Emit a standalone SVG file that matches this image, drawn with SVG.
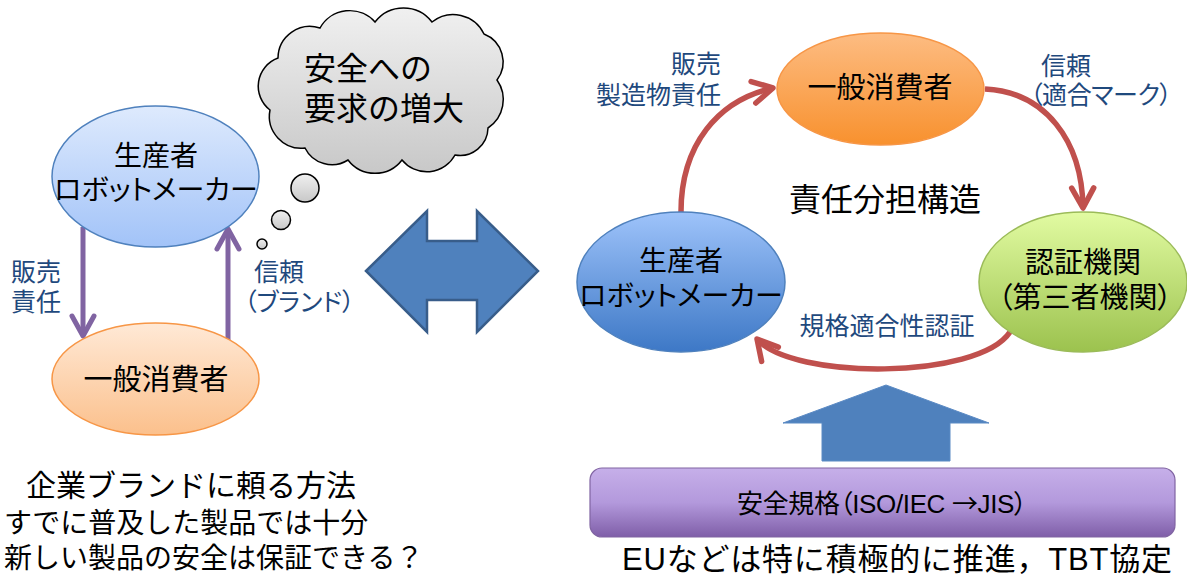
<svg xmlns="http://www.w3.org/2000/svg" width="1187" height="584" viewBox="0 0 1187 584">
<defs>
<linearGradient id="gBlueL" x1="0" y1="0" x2="0" y2="1"><stop offset="0" stop-color="#DEEAFD"/><stop offset="1" stop-color="#A2C3F8"/></linearGradient>
<linearGradient id="gOrangeL" x1="0" y1="0" x2="0" y2="1"><stop offset="0" stop-color="#FFE9D6"/><stop offset="1" stop-color="#FBC08C"/></linearGradient>
<linearGradient id="gOrange" x1="0" y1="0" x2="0" y2="1"><stop offset="0" stop-color="#FDBC82"/><stop offset="1" stop-color="#F8912E"/></linearGradient>
<linearGradient id="gBlue" x1="0" y1="0" x2="0" y2="1"><stop offset="0" stop-color="#9EC3FA"/><stop offset="1" stop-color="#3D78C6"/></linearGradient>
<linearGradient id="gGreen" x1="0" y1="0" x2="0" y2="1"><stop offset="0" stop-color="#E2FBA2"/><stop offset="1" stop-color="#9CC24E"/></linearGradient>
<linearGradient id="gPurple" x1="0" y1="0" x2="0" y2="1"><stop offset="0" stop-color="#C6AFE9"/><stop offset="0.5" stop-color="#B399DC"/><stop offset="1" stop-color="#7F5EA8"/></linearGradient>
<linearGradient id="gGrey" x1="0" y1="0" x2="0" y2="1"><stop offset="0" stop-color="#F0F0F0"/><stop offset="1" stop-color="#C8C8C8"/></linearGradient>
<marker id="mRed" markerUnits="userSpaceOnUse" markerWidth="40" markerHeight="40" viewBox="-30 -20 40 40" refX="0" refY="0" orient="auto">
<path d="M-20,-11 L0,0 L-20,11" fill="none" stroke="#C0504D" stroke-width="5.5" stroke-linecap="round" stroke-linejoin="round"/>
</marker>
<marker id="mPurple" markerUnits="userSpaceOnUse" markerWidth="40" markerHeight="40" viewBox="-30 -20 40 40" refX="0" refY="0" orient="auto">
<path d="M-20,-11 L0,0 L-20,11" fill="none" stroke="#8064A2" stroke-width="5" stroke-linecap="round" stroke-linejoin="round"/>
</marker>
</defs>
<style>
text{font-family:"Liberation Sans","Noto Sans CJK JP","Noto Sans CJK SC",sans-serif;fill:#000;}
.p{font-feature-settings:"palt";}
.cjk{font-family:"Noto Sans CJK JP",sans-serif;}
.lbl{fill:#1F497D;font-size:25px;}
.mid{text-anchor:middle;}
.end{text-anchor:end;}
.n28{font-size:28px;}
.red{fill:none;stroke:#C0504D;stroke-width:5.5;marker-end:url(#mRed);}
.pur{fill:none;stroke:#8064A2;stroke-width:5;marker-end:url(#mPurple);}
.big{fill:#4F81BD;stroke:#385D8A;stroke-width:2.5;stroke-linejoin:miter;}
.gr{fill:url(#gGrey);stroke:#000;stroke-width:1.5;}
</style>

<g id="connectors">
<path class="pur" d="M83,227 L83,336"/>
<path class="pur" d="M228,340 L228,229"/>
<path class="red" d="M681,212 C681,145 718,100 773,88"/>
<path class="red" d="M985,89 C1045,92 1082,140 1083,208"/>
<path class="red" d="M1010,332 C978,380 792,380 757,339"/>
</g>

<g id="cloud">
<path class="gr" d="M278,58 A32,32 0 0 1 320,28 A34,34 0 0 1 375,22 A36,36 0 0 1 432,22 A34,34 0 0 1 484,34 A30,30 0 0 1 497,80 A34,34 0 0 1 488,128 A28,28 0 0 1 455,155 A32,32 0 0 1 402,160 A34,34 0 0 1 348,160 A30,30 0 0 1 305,148 A32,32 0 0 1 270,110 A30,30 0 0 1 278,58 Z"/>
<circle class="gr" cx="305" cy="188" r="14"/>
<circle class="gr" cx="281" cy="220" r="9.5"/>
<circle class="gr" cx="262" cy="244" r="5"/>
<text x="304" y="80" font-size="32">安全への</text>
<text x="304" y="120" font-size="32">要求の増大</text>
</g>

<g id="producerL">
<ellipse cx="155.5" cy="176.5" rx="103.5" ry="70.5" fill="url(#gBlueL)" stroke="#4F81BD" stroke-width="1.5"/>
<text class="mid n28" x="156" y="166">生産者</text>
<text class="mid n28 p" x="156" y="200">ロボットメーカー</text>
</g>

<g id="consumerL">
<ellipse cx="155.5" cy="379" rx="103.5" ry="56" fill="url(#gOrangeL)" stroke="#F79646" stroke-width="1.5"/>
<text class="mid" x="156" y="390" font-size="29">一般消費者</text>
</g>

<g id="labelsL">
<text class="lbl" x="11" y="281">販売</text>
<text class="lbl" x="11" y="311">責任</text>
<text class="lbl" x="254" y="281">信頼</text>
<text class="lbl p" x="244" y="311">（ブランド）</text>
</g>

<g id="doubleArrow">
<polygon class="big" points="366,271 427,211 427,241 477,241 477,211 538,271 477,332 477,300 427,300 427,332"/>
</g>

<g id="textL">
<text x="26" y="496" font-size="30">企業ブランドに頼る方法</text>
<text x="4" y="533" font-size="28">すでに普及した製品では十分</text>
<text x="4" y="568" font-size="28">新しい製品の安全は保証できる？</text>
</g>

<g id="consumerR">
<ellipse cx="880.5" cy="89" rx="103.5" ry="56" fill="url(#gOrange)" stroke="#F79646" stroke-width="1.5"/>
<text class="mid" x="880" y="98" font-size="29">一般消費者</text>
</g>

<g id="producerR">
<ellipse cx="681" cy="282" rx="104" ry="70" fill="url(#gBlue)" stroke="#4F81BD" stroke-width="1.5"/>
<text class="mid n28" x="681" y="271">生産者</text>
<text class="mid n28 p" x="681" y="306">ロボットメーカー</text>
</g>

<g id="certBody">
<ellipse cx="1083" cy="282" rx="104" ry="70" fill="url(#gGreen)" stroke="#9BBB59" stroke-width="1.5"/>
<text class="mid" x="1083" y="273" font-size="29">認証機関</text>
<text class="mid p" x="1085" y="308" font-size="29">（第三者機関）</text>
</g>

<g id="labelsR">
<text class="lbl end" x="721" y="73">販売</text>
<text class="lbl end" x="721" y="104">製造物責任</text>
<text class="lbl" x="1041" y="75">信頼</text>
<text class="lbl p" x="1030" y="104" textLength="142" lengthAdjust="spacing">（適合マーク）</text>
<text class="lbl mid" x="887" y="335" font-size="26">規格適合性認証</text>
<text class="mid" x="885" y="211" font-size="32">責任分担構造</text>
</g>

<g id="upArrow">
<polygon points="886,385 989,423 950,423 950,461 822,461 822,423 783,423" fill="#4F81BD" stroke="#5B8AC4" stroke-width="1"/>
</g>

<g id="standards">
<rect x="590" y="468" width="585" height="69" rx="12" ry="12" fill="url(#gPurple)" stroke="#8064A2" stroke-width="1.2"/>
<text class="p" x="737" y="513" font-size="26" textLength="290" lengthAdjust="spacing">安全規格（ISO/IEC <tspan class="cjk">→</tspan>JIS）</text>
</g>

<g id="footer">
<text x="622" y="570" font-size="31" textLength="550" lengthAdjust="spacing">EUなどは特に積極的に推進，TBT協定</text>
</g>
</svg>
